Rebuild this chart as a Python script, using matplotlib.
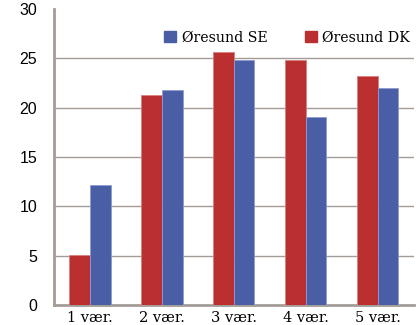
import matplotlib.pyplot as plt
import numpy as np
from matplotlib.patches import Patch

categories = ['1 vær.', '2 vær.', '3 vær.', '4 vær.', '5 vær.']
oresund_dk = [5.1, 21.3, 25.6, 24.8, 23.2]
oresund_se = [12.2, 21.8, 24.8, 19.1, 22.0]

red = '#BA2F30'
blue = '#4A5EA6'
axis_col = '#A39C97'

fig = plt.figure(figsize=(4.2, 3.25), dpi=100)
ax = fig.add_axes([0.1286, 0.0615, 0.857, 0.911])

x = np.arange(len(categories))
w = 0.285
ax.bar(x - w / 2, oresund_dk, w, color=red, edgecolor='#D98080', linewidth=0.6, zorder=3)
ax.bar(x + w / 2, oresund_se, w, color=blue, edgecolor='#8F9BD0', linewidth=0.6, zorder=3)

ax.set_xlim(-0.5, 4.5)
ax.set_ylim(0, 30)
ax.set_yticks(range(0, 31, 5))
ax.set_xticks(x)
ax.set_xticklabels(categories, family='DejaVu Serif', fontsize=10.5)
for lab in ax.get_yticklabels():
    lab.set_family('Liberation Sans')
    lab.set_fontsize(11.5)
ax.tick_params(axis='both', length=0)
ax.tick_params(axis='y', pad=12)
ax.tick_params(axis='x', pad=4)

for y in range(5, 26, 5):
    ax.axhline(y, color=axis_col, lw=1.0, zorder=1)

for s in ['top', 'right']:
    ax.spines[s].set_visible(False)
ax.spines['left'].set_color(axis_col)
ax.spines['bottom'].set_color(axis_col)
ax.spines['left'].set_linewidth(2)
ax.spines['bottom'].set_linewidth(2)

handles = [Patch(color=blue, label='Øresund SE'), Patch(color=red, label='Øresund DK')]
ax.legend(handles=handles, ncol=2, frameon=False, loc='upper right',
          bbox_to_anchor=(1.025, 0.97), prop={'family': 'DejaVu Serif', 'size': 10.2},
          handlelength=0.85, handleheight=0.85, handletextpad=0.4, columnspacing=2.6)

fig.savefig('out.png', dpi=100)
